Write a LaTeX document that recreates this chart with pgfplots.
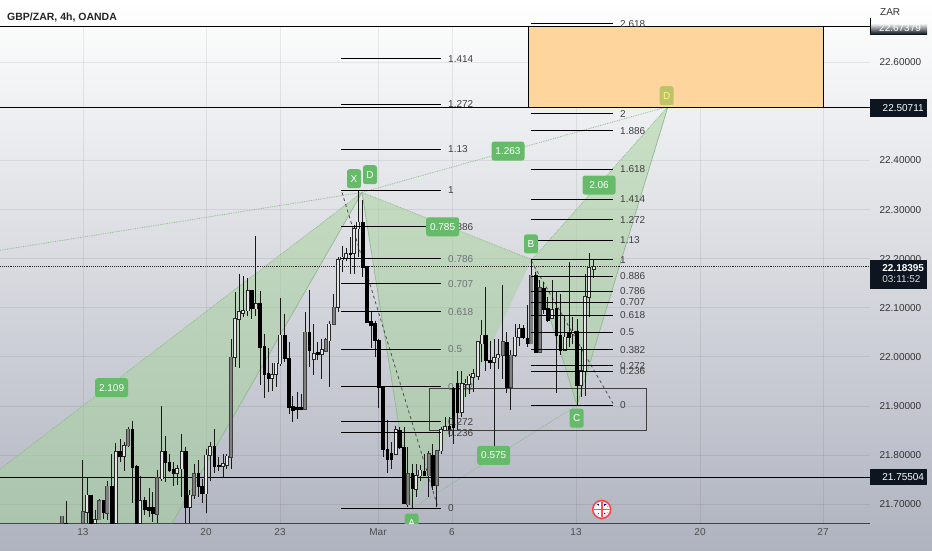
\documentclass[border=0pt]{standalone}
\usepackage{pgfplots}
\usepackage{pgfplotstable}
\usepackage{fontspec}
\setmainfont{Liberation Sans}
\pgfplotsset{compat=1.18}

\definecolor{bgmid}{HTML}{D9DBE0}
\definecolor{bgbot}{HTML}{AFB3BF}
\definecolor{pat}{HTML}{A5D29A}
\definecolor{patline}{HTML}{8DB98D}
\definecolor{tag}{HTML}{66BB6A}
\definecolor{tagd}{HTML}{BEC369}
\definecolor{zone}{HTML}{FFD59E}
\definecolor{pricebox}{HTML}{0D1520}
\definecolor{labgray}{HTML}{6E7278}

% x h l t b  (x in chart pixels, the rest prices)
\pgfplotstableread{
x h l t b
87 21.756 21.661 21.718 21.684
95.3 21.687 21.661 21.668 21.661
115.7 21.825 21.661 21.806 21.661
124 21.826 21.767 21.819 21.798
140.3 21.758 21.661 21.707 21.661
161.7 21.899 21.747 21.806 21.752
177.3 21.779 21.738 21.772 21.763
181.7 21.842 21.714 21.806 21.772
189.7 21.729 21.661 21.718 21.694
206.3 21.813 21.682 21.799 21.721
210.3 21.826 21.748 21.816 21.799
223 21.801 21.755 21.782 21.777
226.7 21.802 21.772 21.797 21.779
235.3 22.133 21.980 22.077 21.999
239.3 22.169 21.978 22.091 22.077
243.3 22.164 22.081 22.094 22.089
247.7 22.161 22.084 22.135 22.094
255.7 22.247 22.084 22.108 22.098
272.3 21.987 21.931 21.963 21.957
276.3 21.988 21.938 21.987 21.964
280.3 22.120 21.982 22.044 21.986
313.7 22.067 21.962 22.006 21.995
321.7 22.037 21.955 22.014 22.005
329.3 22.074 21.938 22.066 22.033
338.3 22.203 22.091 22.198 22.101
342.3 22.225 22.173 22.203 22.198
346.3 22.222 22.196 22.210 22.200
354.3 22.268 22.169 22.261 22.211
358.3 22.338 22.203 22.274 22.261
395.7 21.860 21.802 21.851 21.802
416.3 21.781 21.714 21.758 21.731
420.3 21.779 21.748 21.769 21.758
441 21.858 21.802 21.851 21.809
445 21.877 21.850 21.857 21.851
461.7 21.972 21.877 21.945 21.887
465.7 21.955 21.918 21.946 21.944
469.3 21.965 21.925 21.960 21.944
473.3 21.976 21.928 21.965 21.959
478.3 22.033 21.952 22.030 21.960
481.7 22.075 21.989 22.044 22.027
494.3 22.037 21.799 21.998 21.989
498.3 22.037 21.976 22.004 21.998
515 22.067 21.999 22.040 22.003
519 22.067 22.023 22.057 22.040
552 22.156 22.077 22.096 22.079
564.7 22.084 22.013 22.040 22.014
572.7 22.081 22.027 22.052 22.047
581.3 22.020 21.918 21.972 21.942
585 22.168 21.921 22.122 21.972
589.3 22.211 22.082 22.181 22.122
593.7 22.198 22.161 22.183 22.179
}\candleup

\pgfplotstableread{
x h l t b
66 21.707 21.661 21.661 21.661
91 21.718 21.661 21.718 21.661
103.3 21.709 21.670 21.707 21.682
111.7 21.802 21.661 21.736 21.661
120 21.833 21.785 21.806 21.797
132.3 21.870 21.702 21.851 21.775
136.7 21.779 21.661 21.777 21.661
144.7 21.714 21.677 21.707 21.690
149 21.733 21.673 21.692 21.688
152.7 21.724 21.663 21.692 21.680
165 21.838 21.745 21.806 21.785
169.3 21.801 21.765 21.785 21.768
173.3 21.785 21.736 21.770 21.763
185.7 21.817 21.661 21.806 21.694
198.3 21.790 21.714 21.762 21.735
202 21.752 21.702 21.735 21.721
214.3 21.853 21.763 21.817 21.777
218.7 21.796 21.767 21.779 21.777
251.7 22.135 22.077 22.135 22.098
260 22.134 21.942 22.109 22.020
264.3 22.047 21.917 22.020 21.965
268.3 22.018 21.928 21.965 21.957
284.7 22.088 21.989 22.044 21.997
289 22.030 21.884 21.997 21.897
292.7 21.921 21.867 21.899 21.891
297 21.928 21.874 21.896 21.893
301 21.925 21.894 21.896 21.892
309.3 22.137 21.979 22.050 22.013
317.7 22.030 21.993 22.008 22.005
350.3 22.244 22.169 22.211 22.209
362.7 22.319 22.162 22.274 22.183
366.7 22.186 22.071 22.183 22.071
371 22.094 22.018 22.071 22.064
375 22.074 21.999 22.067 22.033
378.7 22.037 21.896 22.033 21.938
383 21.940 21.796 21.938 21.811
387.3 21.872 21.763 21.811 21.790
391.3 21.826 21.772 21.802 21.790
399.7 21.857 21.813 21.850 21.815
404 21.857 21.701 21.816 21.701
412.3 21.782 21.690 21.762 21.731
424.3 21.802 21.758 21.767 21.758
432.7 21.823 21.728 21.799 21.738
449.3 21.877 21.836 21.858 21.853
453.3 21.938 21.823 21.935 21.857
457.3 21.972 21.850 21.945 21.887
485.7 22.142 21.972 22.044 21.993
490 22.033 21.976 21.993 21.989
506.7 22.050 21.926 22.030 21.938
523 22.064 22.037 22.057 22.039
527.3 22.105 22.020 22.037 22.027
535.7 22.172 22.010 22.166 22.010
543.7 22.152 22.088 22.140 22.096
547.7 22.122 22.071 22.098 22.075
556.3 22.134 21.926 22.098 22.044
560.3 22.127 22.003 22.044 22.013
569 22.194 22.020 22.048 22.039
577 22.077 21.901 22.052 21.942
}\candledown

\pgfplotstableread{
x h l t b
61.7 21.675 21.661 21.675 21.661
82.7 21.789 21.661 21.684 21.661
99.3 21.711 21.667 21.707 21.668
107.3 21.748 21.668 21.736 21.682
128 21.857 21.816 21.852 21.819
157 21.770 21.661 21.754 21.680
194 21.782 21.711 21.762 21.718
231 22.037 21.772 21.999 21.796
305 22.091 21.891 22.050 21.894
325.7 22.039 22.010 22.035 22.012
333.7 22.128 22.064 22.101 22.067
407.7 21.816 21.694 21.762 21.699
428.7 21.809 21.714 21.802 21.758
436.7 21.811 21.695 21.809 21.738
502.7 22.147 21.955 22.030 22.003
510.7 22.013 21.891 22.003 21.938
531.3 22.200 22.027 22.166 22.027
539.7 22.156 22.010 22.140 22.010
}\candlegray

\pgfplotstableread{
p
21.692
21.845
21.868
21.939
22.016
22.092
22.149
22.200
22.265
22.339
22.423
22.515
22.607
}\fiba

\pgfplotstableread{
p
21.901
21.971
21.982
22.014
22.050
22.085
22.111
22.134
22.164
22.198
22.237
22.279
22.321
22.382
22.461
22.495
22.679
}\fibb

\pgfplotsset{
  vbars/.style 2 args={forget plot, draw=none, mark=none,
    error bars/y dir=minus, error bars/y explicit, error bars/error mark=none,
    error bars/error bar style={draw=#1, solid, line width=#2}},
  hbars/.style={forget plot, draw=none, mark=none,
    error bars/x dir=plus, error bars/x explicit, error bars/error mark=none,
    error bars/error bar style={draw=black, solid, line width=0.9pt}},
  wicks/.style={vbars={black!90}{0.8pt}},
}
\tikzset{
  ptag/.style={fill=tag, rounded corners=2.5pt, text=white, font=\fontsize{10}{10}\selectfont,
    minimum height=19pt, inner sep=0pt, minimum width=#1},
  ptag/.default=33pt,
  fl/.style={anchor=west, inner sep=0pt, font=\fontsize{10}{10}\selectfont, text=#1},
  fl/.default={black!75},
  pbox/.style={fill=pricebox, text=white, anchor=west, minimum width=57pt, inner sep=0pt,
    font=\fontsize{10}{10}\selectfont},
}

\begin{document}
\begin{tikzpicture}
\path[use as bounding box] (0,-26.8pt) rectangle (932pt,523.2pt);
\shade[top color=white, middle color=bgmid, bottom color=bgbot] (0,-26.8pt) rectangle (932pt,523.2pt);
\begin{axis}[
    name=ax, at={(0,0)}, anchor=south west,
    scale only axis, width=870pt, height=496.2pt,
    xmin=0, xmax=870, ymin=21.661, ymax=22.672,
    clip=false,
    axis x line*=bottom, axis y line*=right,
    x axis line style={draw=black!75, line width=1pt, -},
    y axis line style={draw=none, -},
    major tick length=0pt,
    grid=major, grid style={black, opacity=0.07, line width=0.7pt},
    xtick={83,206,280,378,452,576,700,823},
    xticklabels={13,20,23,Mar,6,13,20,27},
    ytick={21.7,21.8,21.9,22.0,22.1,22.2,22.3,22.4,22.6},
    yticklabel pos=right,
    x tick label style={font=\fontsize{10}{10}\selectfont, text=black!70, yshift=-2pt},
    y tick label style={font=\fontsize{10}{10}\selectfont, text=black!80, xshift=6pt},
    /pgf/number format/assume math mode=true,
    yticklabel style={/pgf/number format/fixed, /pgf/number format/fixed zerofill, /pgf/number format/precision=5},
]
% harmonic pattern fills
\addplot[forget plot, draw=none, fill=pat, fill opacity=0.5] coordinates {(0,21.771) (362,22.335) (172,21.661) (0,21.661)} -- cycle;
\addplot[forget plot, draw=none, fill=pat, fill opacity=0.5] coordinates {(362,22.335) (412,21.691) (532,22.198)} -- cycle;
\addplot[forget plot, draw=none, fill=pat, fill opacity=0.5] coordinates {(532,22.198) (577,21.901) (668,22.510)} -- cycle;
\addplot[forget plot, patline, densely dotted, line width=0.8pt] coordinates {(0,21.771) (362,22.335) (532,22.198) (668,22.510)};
\addplot[forget plot, patline, densely dotted, line width=0.8pt] coordinates {(0,22.217) (362,22.335) (668,22.510)};
\addplot[forget plot, patline, densely dotted, line width=0.8pt] coordinates {(412,21.691) (577,21.901)};
\addplot[forget plot, patline, line width=0.7pt] coordinates {(172,21.661) (362,22.335) (412,21.691)};
\addplot[forget plot, patline, line width=0.7pt] coordinates {(532,22.198) (577,21.901) (668,22.510)};

% zones and levels
\addplot[forget plot, draw=black, line width=0.9pt, fill=zone] coordinates {(528,22.50711) (823,22.50711) (823,22.67379) (528,22.67379)} -- cycle;
\addplot[forget plot, draw=black!75, line width=0.9pt] coordinates {(429,21.936) (646,21.936) (646,21.850) (429,21.850) (429,21.936)};
\addplot[forget plot, black, line width=0.9pt] coordinates {(0,22.67379) (870,22.67379)};
\addplot[forget plot, black, line width=0.9pt] coordinates {(0,22.50711) (870,22.50711)};
\addplot[forget plot, black, line width=0.9pt] coordinates {(0,21.75504) (870,21.75504)};
\addplot[forget plot, black!85, densely dotted, line width=0.9pt] coordinates {(0,22.18395) (870,22.18395)};
\addplot[forget plot, black!70, dashed, line width=0.8pt] coordinates {(342,22.335) (438,21.693)};
\addplot[forget plot, black!70, dashed, line width=0.8pt] coordinates {(531,22.196) (613,21.905)};

\node[fl={labgray}] at (axis cs:448,21.939) {0.382};

% candles
\addplot[wicks] table[x=x, y=h, y error minus expr=\thisrow{h}-\thisrow{l}] {\candleup};
\addplot[wicks] table[x=x, y=h, y error minus expr=\thisrow{h}-\thisrow{l}] {\candledown};
\addplot[wicks] table[x=x, y=h, y error minus expr=\thisrow{h}-\thisrow{l}] {\candlegray};
\addplot[vbars={black}{3.6pt}] table[x=x, y expr=\thisrow{t}+0.0012, y error minus expr=\thisrow{t}-\thisrow{b}+0.0024] {\candledown};
\addplot[vbars={black!85}{3.9pt}] table[x=x, y expr=\thisrow{t}+0.0014, y error minus expr=\thisrow{t}-\thisrow{b}+0.0028] {\candleup};
\addplot[vbars={white!90!black}{2.2pt}] table[x=x, y=t, y error minus expr=\thisrow{t}-\thisrow{b}] {\candleup};
\addplot[vbars={black!75}{3.9pt}] table[x=x, y expr=\thisrow{t}+0.0014, y error minus expr=\thisrow{t}-\thisrow{b}+0.0028] {\candlegray};
\addplot[vbars={black!50}{2.4pt}] table[x=x, y=t, y error minus expr=\thisrow{t}-\thisrow{b}] {\candlegray};

% fib levels
\addplot[hbars] table[x expr=341, y=p, x error plus expr=100] {\fiba};
\addplot[hbars] table[x expr=530.7, y=p, x error plus expr=82.3] {\fibb};

\node[fl] at (axis cs:448,21.692) {0};
\node[fl] at (axis cs:448,21.845) {0.236};
\node[fl] at (axis cs:448,21.868) {0.272};
\node[fl={labgray}] at (axis cs:448,22.016) {0.5};
\node[fl={labgray}] at (axis cs:448,22.092) {0.618};
\node[fl={labgray}] at (axis cs:448,22.149) {0.707};
\node[fl={labgray}] at (axis cs:448,22.200) {0.786};
\node[fl] at (axis cs:448,22.265) {0.886};
\node[fl] at (axis cs:448,22.339) {1};
\node[fl] at (axis cs:448,22.423) {1.13};
\node[fl] at (axis cs:448,22.515) {1.272};
\node[fl] at (axis cs:448,22.607) {1.414};

\node[fl] at (axis cs:620,21.901) {0};
\node[fl] at (axis cs:620,21.971) {0.236};
\node[fl] at (axis cs:620,21.982) {0.272};
\node[fl] at (axis cs:620,22.014) {0.382};
\node[fl] at (axis cs:620,22.050) {0.5};
\node[fl] at (axis cs:620,22.085) {0.618};
\node[fl] at (axis cs:620,22.111) {0.707};
\node[fl] at (axis cs:620,22.134) {0.786};
\node[fl] at (axis cs:620,22.164) {0.886};
\node[fl] at (axis cs:620,22.198) {1};
\node[fl] at (axis cs:620,22.237) {1.13};
\node[fl] at (axis cs:620,22.279) {1.272};
\node[fl] at (axis cs:620,22.321) {1.414};
\node[fl] at (axis cs:620,22.382) {1.618};
\node[fl] at (axis cs:620,22.461) {1.886};
\node[fl] at (axis cs:620,22.495) {2};
\node[fl] at (axis cs:620,22.679) {2.618};

% pattern tags
\node[ptag] at (axis cs:111.6,21.937) {2.109};
\node[ptag] at (axis cs:508,22.419) {1.263};
\node[ptag] at (axis cs:599,22.350) {2.06};
\node[ptag] at (axis cs:442.6,22.265) {0.785};
\node[ptag] at (axis cs:493.7,21.799) {0.575};
\node[ptag=14pt] at (axis cs:354,22.363) {X};
\node[ptag=14pt] at (axis cs:370,22.371) {D};
\node[ptag=14pt] at (axis cs:531,22.230) {B};
\node[ptag=14pt] at (axis cs:576.7,21.875) {C};
\node[ptag=14pt, fill=tagd, text=yellow!50!white] at (axis cs:666.7,22.532) {D};
\begin{scope}
\clip (axis cs:390,21.661) rectangle (axis cs:430,21.75);
\node[ptag=14pt] at (axis cs:411.7,21.661) {A};
\end{scope}

% anchors for what sits over the price scale
\coordinate (pa) at (axis cs:870,22.67379);
\coordinate (pb) at (axis cs:870,22.50711);
\coordinate (pc) at (axis cs:870,22.18395);
\coordinate (pd) at (axis cs:870,21.75504);
\coordinate (flag) at (axis cs:601.7,21.689);
\coordinate (title) at (axis cs:7,22.672);
\end{axis}

% news flag icon
\fill[white!90!blue] (flag) circle (9pt);
\begin{scope}
\clip (flag) circle (8pt);
\fill[blue!60!black] ([shift={(-6pt,-5pt)}]flag) rectangle ([shift={(6pt,5pt)}]flag);
\draw[white, line width=2.2pt] ([shift={(-8pt,-6pt)}]flag) -- ([shift={(8pt,6pt)}]flag) ([shift={(-8pt,6pt)}]flag) -- ([shift={(8pt,-6pt)}]flag);
\draw[white, line width=4.5pt] ([shift={(-8pt,0pt)}]flag) -- ([shift={(8pt,0pt)}]flag) ([shift={(0pt,-8pt)}]flag) -- ([shift={(0pt,8pt)}]flag);
\draw[red!70!white, line width=1.6pt] ([shift={(-8pt,0pt)}]flag) -- ([shift={(8pt,0pt)}]flag) ([shift={(0pt,-8pt)}]flag) -- ([shift={(0pt,8pt)}]flag);
\end{scope}
\draw[red!75!white, line width=1.5pt] (flag) circle (9pt);

% price scale boxes
\node[pbox, minimum height=18pt] at (pb) {\hspace{9pt}22.50711\hfill};
\node[pbox, minimum height=16pt] at (pd) {\hspace{9pt}21.75504\hfill};
\node[pbox, minimum height=29pt, align=left, yshift=-7.5pt] at (pc) {\hspace{9pt}\textbf{22.18395}\\[1pt]\hspace{9pt}\textcolor{white!85!black}{03:11:52}};
\begin{scope}
\clip ([yshift=2pt]pa) rectangle ([shift={(57pt,-8pt)}]pa);
\shade[top color=white, bottom color=pricebox] ([yshift=3pt]pa) rectangle ([shift={(57pt,-8pt)}]pa);
\node[text=white, anchor=west, inner sep=0pt, font=\fontsize{10}{10}\selectfont] at ([xshift=9pt,yshift=-2pt]pa) {22.67379};
\end{scope}
\draw[black, line width=0.8pt] ([yshift=8pt]pa) -- ([yshift=-7pt]pa);

\node[anchor=west, inner sep=0pt, font=\fontsize{10}{10}\selectfont, text=black!80] at ([xshift=10pt,yshift=14pt]pa) {ZAR};
\node[anchor=west, inner sep=0pt, font=\fontsize{10.5}{11}\selectfont\bfseries, text=black!85] at ([yshift=9pt]title) {GBP/ZAR, 4h, OANDA};
\end{tikzpicture}
\end{document}
